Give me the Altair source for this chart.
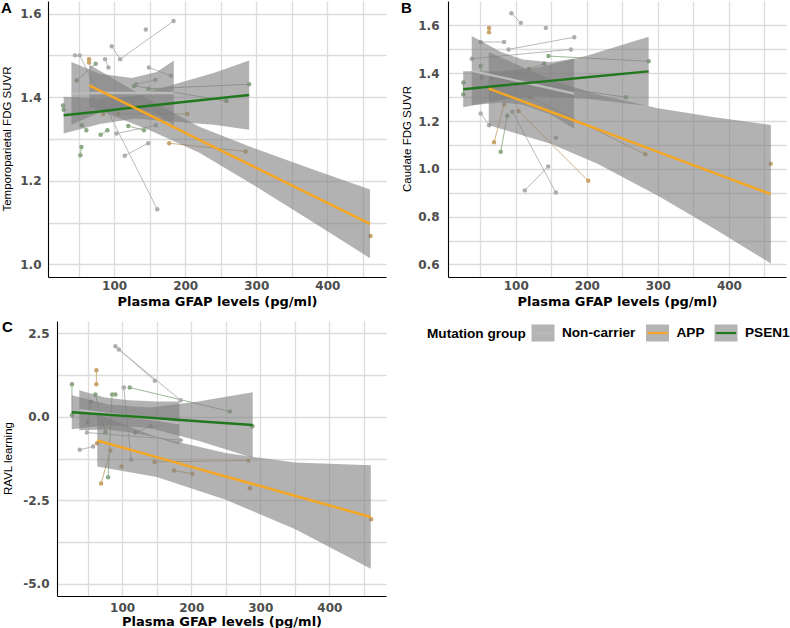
import altair as alt
import pandas as pd

GROUPS = ["Non-carrier", "APP", "PSEN1"]
GROUP_NAME = {"N": "Non-carrier", "A": "APP", "P": "PSEN1"}
FIT_COLORS = ["#bababa", "#F5A623", "#22781E"]
SUBJ_COLORS = ["#adadad", "#c8a46a", "#8caa85"]
BAND_FILL = "#7f7f7f"
GFAP_TITLE = "Plasma GFAP levels (pg/ml)"

# ---------------- Panel A : Temporoparietal FDG SUVR ----------------
a_subject = [1, 1, 1, 2, 3, 3, 4, 5, 5, 6, 6, 7, 7, 8, 8, 9, 9,
             10, 10, 11, 11, 12, 12, 13, 13, 14, 14, 15, 15, 16, 16, 17, 17,
             18, 18, 19, 19, 20, 20, 21, 22]
a_group = ["N"] * 17 + ["P"] * 16 + ["A"] * 8
a_gfap = [96.7, 108.5, 183.6, 144.6, 87.3, 92.0, 45.0, 51.6, 160.7, 149.0, 180.0,
          131.0, 158.0, 115.0, 148.0, 103.3, 158.7,
          148.4, 290.0, 128.0, 258.0, 74.0, 47.4, 28.0, 29.0, 54.5, 61.0, 52.5, 54.0,
          81.0, 90.6, 120.0, 142.0,
          64.8, 64.8, 105.6, 203.0, 177.5, 285.0, 460.6, 84.5]
a_value = [1.522, 1.491, 1.582, 1.562, 1.491, 1.471, 1.500, 1.500, 1.132, 1.471, 1.451,
           1.431, 1.441, 1.260, 1.290, 1.313, 1.333,
           1.420, 1.431, 1.427, 1.391, 1.480, 1.440, 1.380, 1.370, 1.333, 1.321, 1.261, 1.281,
           1.310, 1.321, 1.331, 1.321,
           1.491, 1.483, 1.360, 1.360, 1.290, 1.270, 1.068, 1.360]

a_band_group = ["N"] * 5 + ["P"] * 6 + ["A"] * 6
a_band_x = [40, 80, 125, 160, 184, 29, 80, 130, 185, 240, 290, 65, 150, 220, 300, 380, 460]
a_band_fit = [1.409, 1.410, 1.410, 1.410, 1.410, 1.357, 1.366, 1.376, 1.386, 1.396, 1.405,
              1.428, 1.357, 1.298, 1.231, 1.164, 1.097]
a_band_lo = [1.334, 1.364, 1.374, 1.360, 1.332, 1.313, 1.336, 1.349, 1.341, 1.334, 1.322,
             1.378, 1.321, 1.267, 1.186, 1.101, 1.015]
a_band_hi = [1.484, 1.456, 1.446, 1.460, 1.488, 1.401, 1.396, 1.403, 1.431, 1.458, 1.488,
             1.478, 1.393, 1.329, 1.276, 1.227, 1.179]

# ---------------- Panel B : Caudate FDG SUVR ----------------
b_subject = [1, 1, 2, 3, 3, 4, 4, 5, 5, 6, 6, 7, 8, 8, 9, 9,
             10, 10, 11, 11, 12, 12, 13, 13, 14, 14, 15, 15,
             16, 16, 17, 17, 18, 18, 19, 19, 20]
b_group = ["N"] * 16 + ["P"] * 12 + ["A"] * 9
b_gfap = [93.9, 107.1, 142.3, 50.6, 83.5, 89.7, 182.3, 38.0, 177.6, 50.6, 62.4, 156.4,
          145.6, 112.7, 95.3, 156.4,
          26.2, 26.2, 50.6, 52.0, 118.8, 140.0, 146.0, 287.0, 88.0, 78.8, 67.0, 255.0,
          62.4, 62.4, 83.5, 69.4, 103.8, 202.0, 120.0, 282.4, 458.7]
b_value = [1.651, 1.611, 1.590, 1.531, 1.531, 1.500, 1.551, 1.461, 1.500, 1.232, 1.183, 1.130,
           1.010, 0.910, 1.239, 0.901,
           1.361, 1.311, 1.431, 1.381, 1.419, 1.440, 1.472, 1.450, 1.222, 1.072, 1.381, 1.300,
           1.590, 1.572, 1.269, 1.111, 1.242, 0.950, 1.300, 1.061, 1.021]

b_band_group = ["N"] * 5 + ["P"] * 5 + ["A"] * 6
b_band_x = [38, 80, 110, 150, 182, 26, 80, 130, 200, 287, 62, 150, 215, 300, 380, 459]
b_band_fit = [1.411, 1.383, 1.363, 1.336, 1.315, 1.333, 1.349, 1.363, 1.383, 1.408,
              1.336, 1.238, 1.166, 1.071, 0.982, 0.894]
b_band_lo = [1.266, 1.278, 1.268, 1.226, 1.168, 1.258, 1.289, 1.303, 1.293, 1.263,
             1.183, 1.104, 1.021, 0.888, 0.748, 0.604]
b_band_hi = [1.556, 1.488, 1.458, 1.446, 1.462, 1.408, 1.409, 1.423, 1.473, 1.553,
             1.489, 1.372, 1.311, 1.254, 1.216, 1.184]

# ---------------- Panel C : RAVL learning ----------------
c_subject = [1, 1, 2, 2, 3, 3, 4, 4, 5, 5,
             6, 6, 7, 7, 8, 8, 9, 10, 10, 11, 11, 12, 13, 13,
             14, 14, 15, 15, 16, 17, 17, 18, 18, 19, 20, 21]
c_group = ["N"] * 10 + ["P"] * 14 + ["A"] * 12
c_gfap = [90.3, 147.4, 95.2, 184.7, 102.4, 113.0, 49.0, 184.7, 38.6, 58.0,
          27.4, 27.4, 61.3, 75.8, 85.5, 79.7, 90.3, 111.0, 256.0, 119.0, 141.0, 288.7, 50.0, 55.0,
          62.7, 62.7, 69.5, 83.0, 99.0, 175.0, 201.6, 147.0, 282.9, 284.8, 460.4, 63.7]
c_value = [2.12, 1.08, 2.02, 0.50, 0.88, -1.29, -0.47, -0.70, -0.99, -0.89,
           0.98, 0.05, 0.67, -0.46, 0.67, -1.81, 0.67, 0.88, 0.16, -0.47, -0.28, -0.28, -0.15, 0.45,
           1.40, 0.98, -2.00, -1.01, -1.49, -1.61, -1.71, -1.35, -1.31, -2.14, -3.07, -0.79]

c_band_group = ["N"] * 5 + ["P"] * 5 + ["A"] * 5
c_band_x = [38, 75, 110, 150, 183, 27, 80, 140, 210, 289, 64, 150, 250, 350, 460]
c_band_fit = [0.20, 0.10, 0.02, -0.08, -0.19, 0.136, 0.059, -0.028, -0.129, -0.244,
              -0.71, -1.208, -1.788, -2.367, -3.005]
c_band_lo = [-0.40, -0.38, -0.46, -0.62, -0.84, -0.374, -0.251, -0.338, -0.719, -1.224,
             -1.49, -1.808, -2.488, -3.367, -4.555]
c_band_hi = [0.80, 0.58, 0.50, 0.46, 0.46, 0.646, 0.369, 0.282, 0.461, 0.736,
             0.07, -0.608, -1.088, -1.367, -1.455]


def points_df(subj, grp, gfap, val):
    df = pd.DataFrame({"subject": subj, "group": [GROUP_NAME[g] for g in grp],
                       "gfap": gfap, "value": val})
    df["visit"] = df.groupby("subject").cumcount()
    return df


def band_df(grp, x, fit, lo, hi):
    return pd.DataFrame({"group": [GROUP_NAME[g] for g in grp], "gfap": x,
                         "fit": fit, "lo": lo, "hi": hi})


# legend key: grey box (fill) with a coloured line through its middle (dashed stroke
# so that only the first, horizontal, segment of the outline is drawn)
KEY_PATH = "M-1.2,0H1.35V-1H-1.35V1H1.35V0Z"

LEGEND = alt.Legend(
    orient="none", legendX=379, legendY=2, direction="horizontal",
    titleOrient="left", titleAnchor="middle", titleBaseline="middle",
    titleFont="Liberation Sans", titleFontSize=13.6, titleFontWeight="bold", titleColor="black",
    titlePadding=7, labelFont="Liberation Sans", labelFontSize=13.6, labelFontWeight="bold",
    labelColor="black", labelOffset=9, columnPadding=5.5, symbolSize=289,
    symbolType=KEY_PATH, symbolFillColor="#b4b4b4", symbolStrokeWidth=2.2,
    symbolDash=[20.4, 200], symbolOpacity=1,
    padding=0, offset=0, labelLimit=200,
)


def panel(pts, bands, letter, letter_x, letter_y, ytitle, ytitle_x, xdom, xrange, ydom, yvals,
          ylabel_expr, width, height, ylab_pad, y_offset, xlab_pad, xtitle_pad,
          with_legend=False):
    xs = alt.Scale(domain=xdom, range=xrange, nice=False, zero=False)
    ys = alt.Scale(domain=ydom, nice=False, zero=False)
    xax = alt.Axis(values=[50, 100, 150, 200, 250, 300, 350, 400, 450],
                   labelExpr="datum.value % 100 == 0 ? datum.label : ''",
                   grid=True, gridColor="#dcdcdc", gridWidth=1.3,
                   domain=True, domainColor="black", domainWidth=1.1,
                   ticks=False, tickSize=0, labelOverlap=False,
                   labelFont="DejaVu Sans", labelFontWeight="bold", labelFontSize=12,
                   labelColor="#4d4d4d", labelPadding=xlab_pad,
                   titleFont="DejaVu Sans", titleFontWeight="bold", titleFontSize=13,
                   titleColor="black", titlePadding=xtitle_pad)
    yax = alt.Axis(values=yvals, labelExpr=ylabel_expr, offset=y_offset,
                   grid=True, gridColor="#dcdcdc", gridWidth=1.3,
                   domain=True, domainColor="black", domainWidth=1.1,
                   ticks=False, tickSize=0, labelOverlap=False,
                   labelFont="DejaVu Sans", labelFontWeight="bold", labelFontSize=12,
                   labelColor="#4d4d4d", labelPadding=ylab_pad, title=None)

    X = alt.X("gfap:Q", scale=xs, axis=xax, title=GFAP_TITLE)
    subj_color = alt.Color("group:N", scale=alt.Scale(domain=GROUPS, range=SUBJ_COLORS),
                           legend=None)

    lines = alt.Chart(pts).mark_line(strokeWidth=1, opacity=0.85).encode(
        x=X, y=alt.Y("value:Q", scale=ys, axis=yax),
        detail="subject:N", order="visit:O", color=subj_color,
    )
    dots = alt.Chart(pts).mark_circle(size=20, opacity=1).encode(
        x=X, y=alt.Y("value:Q", scale=ys, axis=yax), color=subj_color,
    )
    ribbons = alt.Chart(bands).mark_area(opacity=0.6, strokeWidth=0).encode(
        x=X, y=alt.Y("lo:Q", scale=ys, axis=yax), y2="hi:Q",
        fill=alt.Fill("group:N", scale=alt.Scale(domain=GROUPS, range=[BAND_FILL] * 3),
                      legend=None),
    )
    fits = alt.Chart(bands).mark_line(strokeWidth=2.5).encode(
        x=X, y=alt.Y("fit:Q", scale=ys, axis=yax),
        stroke=alt.Stroke("group:N", scale=alt.Scale(domain=GROUPS, range=FIT_COLORS),
                          legend=LEGEND if with_legend else None, title="Mutation group"),
    )
    tag = alt.Chart(alt.Data(values=[{"tag": letter}])).mark_text(
        align="left", baseline="top", font="Liberation Sans", fontWeight="bold",
        fontSize=15, color="black",
    ).encode(x=alt.value(letter_x), y=alt.value(letter_y), text="tag:N")
    ylab = alt.Chart(alt.Data(values=[{"t": ytitle}])).mark_text(
        align="center", baseline="middle", angle=270, font="Liberation Sans",
        fontSize=11.5, color="black",
    ).encode(x=alt.value(ytitle_x), y=alt.value(height / 2), text="t:N")

    layered = alt.layer(lines, dots, ribbons, fits, tag, ylab).properties(
        width=width, height=height)
    if with_legend:
        layered = layered.resolve_legend(stroke="independent")
    return layered


even_tenths = "abs(round(datum.value * 10)) % 2 == 0 ? format(datum.value, '.1f') : ''"
c_labels = ("abs(round(datum.value / 1.25)) % 2 == 0 ? "
            "(datum.value < 0 ? '-' : '') + format(abs(datum.value), '.1f') : ''")

panel_a = panel(points_df(a_subject, a_group, a_gfap, a_value),
                band_df(a_band_group, a_band_x, a_band_fit, a_band_lo, a_band_hi),
                "A", -47, 0, "Temporoparietal FDG SUVR", -40.5,
                [7, 482.5], [0, 338], [0.97, 1.63], [1.0, 1.1, 1.2, 1.3, 1.4, 1.5, 1.6],
                even_tenths, 338, 276, 7, 0, 3, 4)
panel_b = panel(points_df(b_subject, b_group, b_gfap, b_value),
                band_df(b_band_group, b_band_x, b_band_fit, b_band_lo, b_band_hi),
                "B", -47, 0, "Caudate FDG SUVR", -40.5,
                [4.6, 480.3], [0, 338], [0.5475, 1.7025],
                [0.6, 0.7, 0.8, 0.9, 1.0, 1.1, 1.2, 1.3, 1.4, 1.5, 1.6], even_tenths,
                338, 276, 9, 0, 3, 4)
# panel C shares the left column origin with panel A; its plot starts 9 px further right
panel_c = panel(points_df(c_subject, c_group, c_gfap, c_value),
                band_df(c_band_group, c_band_x, c_band_fit, c_band_lo, c_band_hi),
                "C", -46, -1, "RAVL learning", -39.3,
                [5.7, 482], [9, 338], [-5.375, 2.875],
                [-5.0, -3.75, -2.5, -1.25, 0.0, 1.25, 2.5], c_labels,
                338, 275, 8, -9, 6, 2, with_legend=True)

row1 = alt.hconcat(panel_a, panel_b, spacing=15)
row2 = alt.hconcat(panel_c)
chart = alt.vconcat(row1, row2, spacing=12).properties(
    padding={"left": 1, "top": 1, "right": 0, "bottom": 0},
    background="white",
).configure_view(stroke=None)

chart.save("out.html", embed_options={"renderer": "svg", "actions": False})
